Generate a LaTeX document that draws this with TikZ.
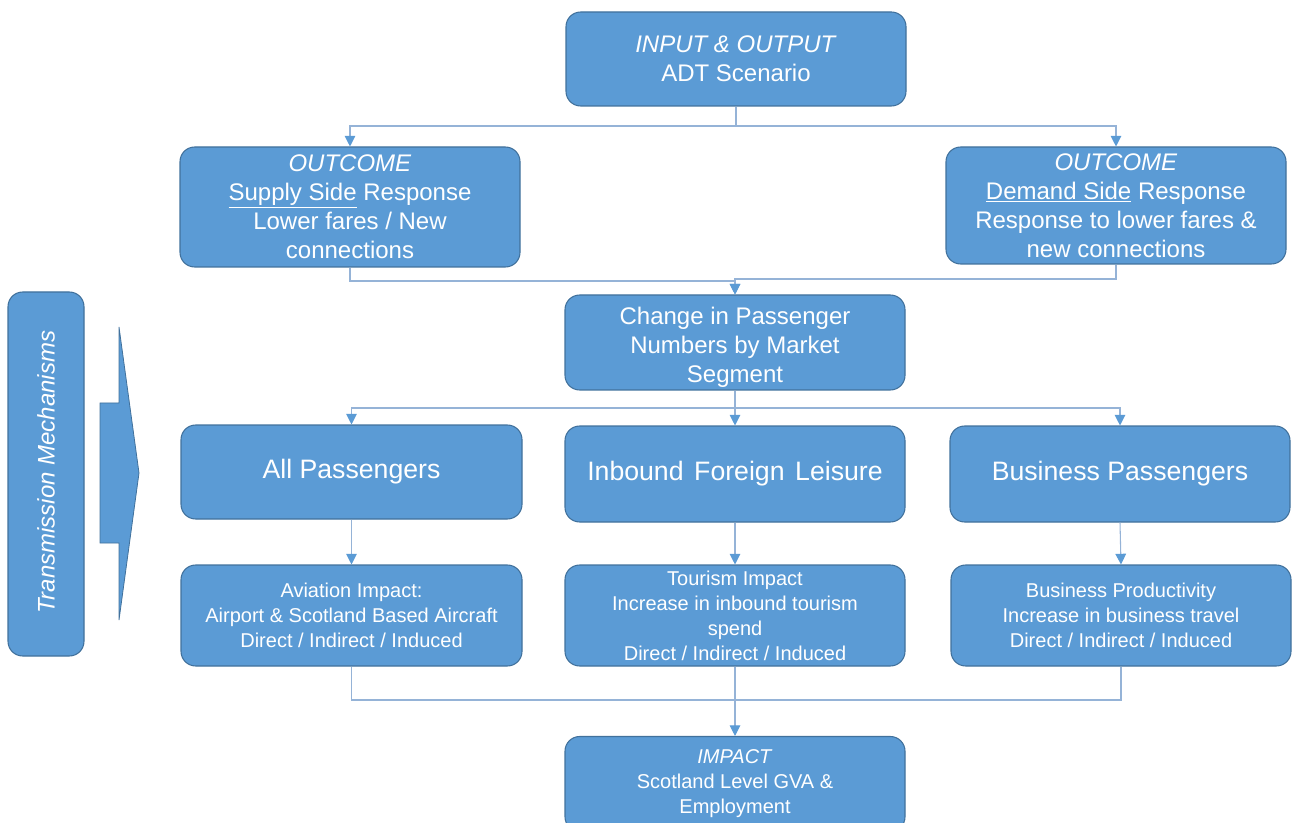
\documentclass[tikz,border=0pt]{standalone}
\usepackage{fontspec}
\setmainfont{Liberation Sans}
\usetikzlibrary{arrows.meta}
\definecolor{boxfill}{HTML}{5B9BD5}
\definecolor{boxline}{HTML}{41719C}
\definecolor{connline}{HTML}{95B3D7}
\tikzset{
  box/.style={draw=boxline, line width=0.8pt, fill=boxfill, rounded corners=11pt,
    text=white, align=center, inner sep=0pt, minimum width=255pt},
  bigtxt/.style={font=\fontsize{18pt}{21.75pt}\selectfont},
  hugetxt/.style={font=\fontsize{20pt}{24pt}\selectfont},
  smalltxt/.style={font=\fontsize{15pt}{18.75pt}\selectfont},
  conn/.style={draw=connline, line width=0.8pt},
  arr/.style={conn, -{Triangle[width=8pt,length=8pt,fill=boxfill,color=boxfill]}},
}
\begin{document}
\begin{tikzpicture}[x=0.75pt,y=-0.75pt]
\clip (0,0) rectangle (1292,823);
\useasboundingbox (0,0) rectangle (1292,823);

% boxes
\node[box,bigtxt,minimum height=70.5pt] (top) at (736,59) {\textit{INPUT \& OUTPUT}\\ADT Scenario};
\node[box,bigtxt,minimum height=90pt] (supply) at (350,207) {\textit{OUTCOME}\\\underline{Supply Side} Response\\Lower fares / New\\connections};
\node[box,bigtxt,minimum height=87.75pt] (demand) at (1116,205.5) {\textit{OUTCOME}\\\underline{Demand Side} Response\\Response to lower fares \&\\new connections};
\node[box,bigtxt,minimum height=71.25pt] (change) at (735,342.5) {\rule{0pt}{20.8pt}Change in Passenger\\Numbers by Market\\Segment};

\node[box,hugetxt,minimum height=70.5pt,minimum width=255.75pt] (allp) at (351.5,472) {All Passengers};
\node[box,hugetxt,minimum height=72pt] (inbound) at (735,474) {Inbound\hspace{0.12em} Foreign\hspace{0.12em} Leisure};
\node[box,hugetxt,minimum height=72pt] (business) at (1120,474) {Business Passengers};

\node[box,smalltxt,minimum height=75.75pt,minimum width=255.75pt] (aviation) at (351.5,615.5) {Aviation Impact:\\Airport \& Scotland Based Aircraft\\Direct / Indirect / Induced};
\node[box,smalltxt,minimum height=75.75pt] (tourism) at (735,615.5) {Tourism Impact\\Increase in inbound tourism\\spend\\Direct / Indirect / Induced};
\node[box,smalltxt,minimum height=75.75pt] (bprod) at (1121,615.5) {Business Productivity\\Increase in business travel\\Direct / Indirect / Induced};

\node[box,smalltxt,minimum height=71.25pt] (impact) at (735,784) {\textit{IMPACT}\\Scotland Level GVA \&\\Employment};

% transmission mechanisms
\node[box,minimum width=57pt,minimum height=273pt] (trans) at (46,474) {};
\node[text=white,bigtxt,rotate=90] (transtxt) at (46,472) {\textit{Transmission Mechanisms}};
\draw[draw=boxline,line width=0.6pt,fill=boxfill] (119,327) -- (139,473) -- (119,620) -- (119,543) -- (100,543) -- (100,403) -- (119,403) -- cycle;

% fork levels
\coordinate (r1) at (0,126);
\coordinate (r2) at (0,281);
\coordinate (r2b) at (0,279);
\coordinate (r3) at (0,408);
\coordinate (r4) at (0,700);

% connectors
\draw[arr] (top.south) -- (top.south |- r1) -| (supply.north);
\draw[arr] (top.south) -- (top.south |- r1) -| (demand.north);

\draw[arr] (supply.south) -- (supply.south |- r2) -| (change.north);
\draw[arr] (demand.south) -- (demand.south |- r2b) -| (change.north);

\draw[arr] (change.south) -- (change.south |- r3) -| (allp.north);
\draw[arr] (change.south) -- (change.south |- r3) -| (business.north);
\draw[arr] (change.south) -- (inbound.north);

\draw[arr] (allp.south) -- (aviation.north);
\draw[arr] (inbound.south) -- (tourism.north);
\draw[arr] (business.south) -- (bprod.north);

\draw[conn] (aviation.south) -- (aviation.south |- r4) -| (bprod.south);
\draw[arr] (tourism.south) -- (impact.north);
\end{tikzpicture}
\end{document}
